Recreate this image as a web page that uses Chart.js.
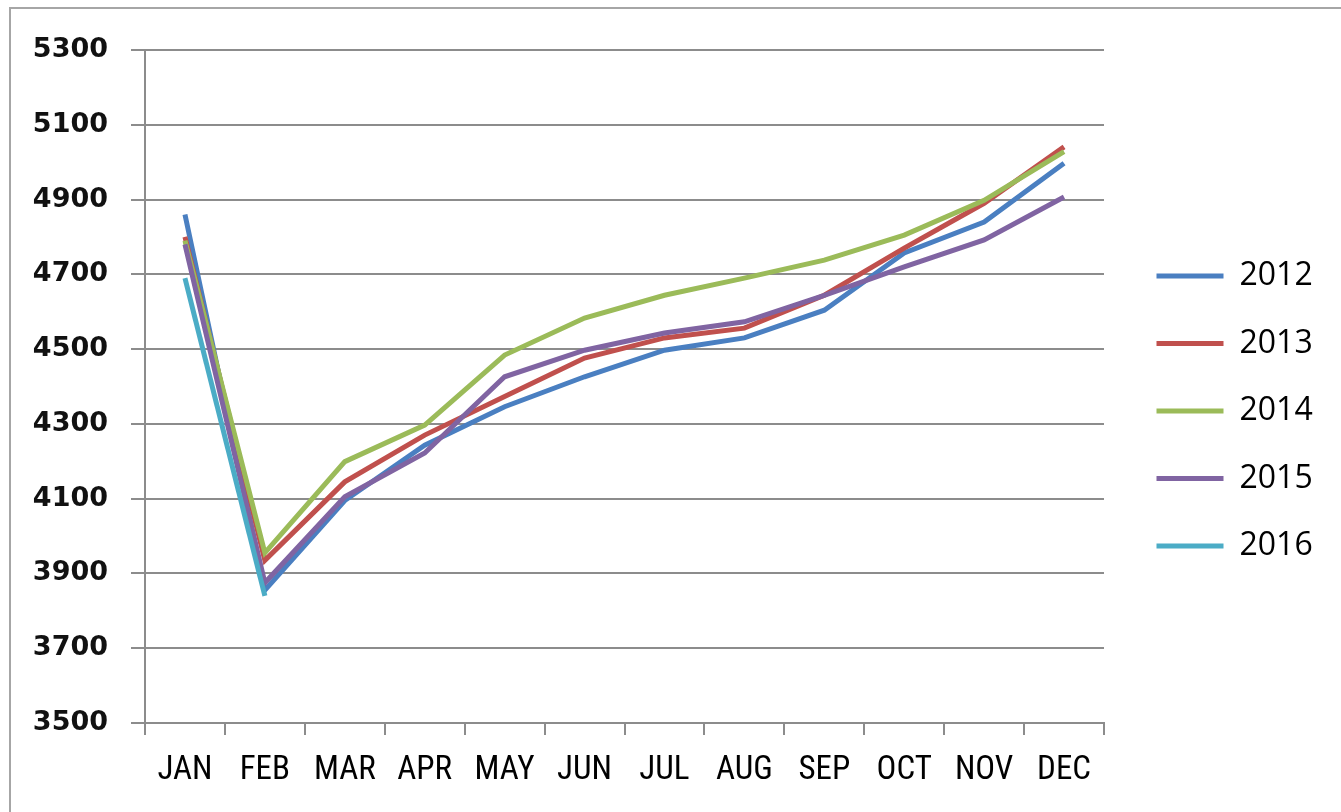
<!DOCTYPE html>
<html>
<head>
<meta charset="utf-8">
<script src="https://cdn.jsdelivr.net/npm/chart.js@4.4.1/dist/chart.umd.min.js"></script>
<style>
    html, body { margin: 0; padding: 0; background: #fff; overflow: hidden; }
    #frame {
        position: absolute; left: 9px; top: 7px; width: 1340px; height: 810px;
        border-left: 2px solid #a6a6a6; border-top: 2px solid #a6a6a6;
    }
    #wrap { position: absolute; left: 0; top: 0; width: 1330px; height: 803px; }
</style>
</head>
<body>
<div id="frame"><div id="wrap"><canvas id="chart"></canvas></div></div>
<script>
// Months on the x axis
const months = ['JAN', 'FEB', 'MAR', 'APR', 'MAY', 'JUN', 'JUL', 'AUG', 'SEP', 'OCT', 'NOV', 'DEC'];

// Values per year
const values2012 = [4860, 3855, 4095, 4243, 4346, 4426, 4497, 4530, 4604, 4757, 4840, 4997];
const values2013 = [4800, 3935, 4145, 4270, 4373, 4476, 4530, 4556, 4644, 4770, 4890, 5041];
const values2014 = [4790, 3955, 4199, 4297, 4484, 4583, 4644, 4690, 4738, 4805, 4898, 5028];
const values2015 = [4780, 3875, 4105, 4222, 4426, 4497, 4543, 4573, 4644, 4720, 4792, 4907];
const values2016 = [4690, 3840, null, null, null, null, null, null, null, null, null, null];

// Y axis range
const yMin = 3500;
const yMax = 5300;
const yStep = 200;

const gridGray = '#8c8c8c';

function makeLine(label, data, color, order) {
    return {
        label: label,
        data: data,
        yAxisID: 'y',
        borderColor: color,
        backgroundColor: color,
        borderWidth: 5,
        pointRadius: 0,
        tension: 0,
        spanGaps: false,
        order: order // later years drawn on top
    };
}

const ctx = document.getElementById('chart').getContext('2d');

new Chart(ctx, {
    type: 'line',
    data: {
        labels: months,
        datasets: [
            makeLine('2012', values2012, '#4a7fc1', 5),
            makeLine('2013', values2013, '#c0504d', 4),
            makeLine('2014', values2014, '#9bbb59', 3),
            makeLine('2015', values2015, '#8064a2', 2),
            makeLine('2016', values2016, '#4bacc6', 1)
        ]
    },
    options: {
        responsive: true,
        maintainAspectRatio: false,
        animation: false,
        layout: {
            padding: { left: 0, top: 41, right: 20, bottom: 0 }
        },
        plugins: {
            tooltip: { enabled: false },
            legend: {
                position: 'right',
                align: 'center',
                fullSize: false,
                maxWidth: 200,
                // empty title only used to nudge the items down
                title: {
                    display: true,
                    text: '',
                    color: 'rgba(0,0,0,0)',
                    font: { size: 10, lineHeight: 1 },
                    padding: { top: 39, bottom: 0 }
                },
                labels: {
                    boxWidth: 67,
                    boxHeight: 5,
                    padding: 35.5,
                    color: '#000',
                    font: { family: "'Open Sans', sans-serif", size: 32 },
                    generateLabels: function(chart) {
                        return chart.data.datasets.map(function(ds, i) {
                            return {
                                text: ds.label,
                                fillStyle: ds.borderColor,
                                strokeStyle: ds.borderColor,
                                lineWidth: 0,
                                hidden: false,
                                datasetIndex: i,
                                fontColor: '#000'
                            };
                        });
                    }
                }
            }
        },
        scales: {
            x: {
                type: 'category',
                offset: true,
                grid: {
                    offset: true,
                    drawOnChartArea: false,
                    drawTicks: true,
                    tickLength: 12,
                    color: gridGray,
                    lineWidth: 2
                },
                border: { display: true, color: gridGray, width: 2 },
                ticks: {
                    color: '#000',
                    padding: 16,
                    maxRotation: 0,
                    autoSkip: false,
                    font: { family: "'Liberation Sans Narrow', 'Roboto Condensed', sans-serif", size: 33 }
                },
                afterFit: function(scale) { scale.height = 89; }
            },
            y: {
                min: yMin,
                max: yMax,
                grid: {
                    color: gridGray,
                    lineWidth: 2,
                    tickLength: 14
                },
                border: { display: true, color: gridGray, width: 2 },
                ticks: {
                    stepSize: yStep,
                    color: '#111',
                    padding: 23,
                    font: { family: "'DejaVu Sans', sans-serif", size: 27, weight: 'bold' },
                    callback: function(value) { return String(value); }
                },
                afterFit: function(scale) { scale.width = 134; }
            },
            // spacer between the plot and the legend
            gap: {
                type: 'linear',
                position: 'right',
                display: true,
                grid: { display: false },
                border: { display: false },
                ticks: { display: false },
                afterFit: function(scale) { scale.width = 17; }
            }
        }
    }
});
</script>
</body>
</html>
